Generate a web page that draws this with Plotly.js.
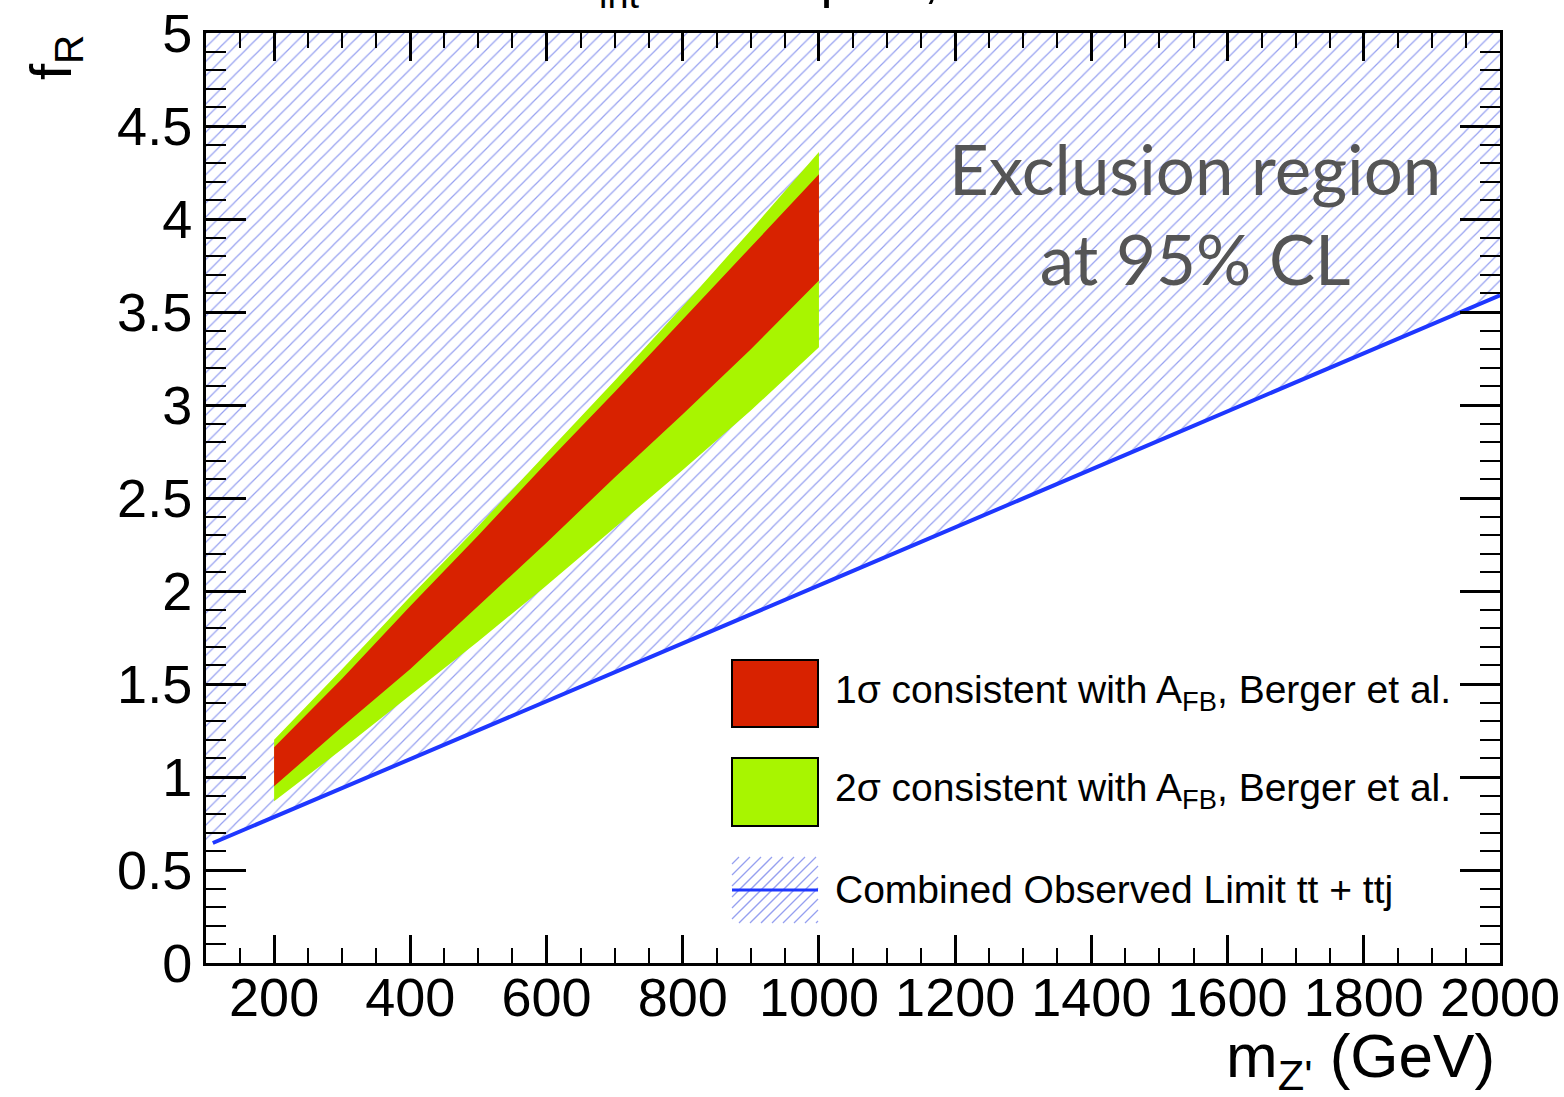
<!DOCTYPE html>
<html>
<head>
<meta charset="utf-8">
<script src="https://cdn.plot.ly/plotly-3.0.1.min.js"></script>
<style>html,body{margin:0;padding:0;background:#fff;}#chart{width:1564px;height:1097px;}</style>
</head>
<body>
<div id="chart"></div>
<script>
// ---- data ----
const bandMass = [200, 300, 400, 500, 600, 700, 800, 900, 1000];           // m_Z' (GeV)
const green2sUpper = [1.20, 1.58, 1.97, 2.35, 2.74, 3.13, 3.53, 3.94, 4.36];
const red1sUpper   = [1.16, 1.53, 1.92, 2.30, 2.69, 3.07, 3.46, 3.85, 4.24];
const red1sLower   = [0.95, 1.27, 1.58, 1.92, 2.26, 2.61, 2.95, 3.30, 3.67];
const green2sLower = [0.87, 1.15, 1.44, 1.73, 2.03, 2.34, 2.65, 2.97, 3.31];

const limitMass = [110, 500, 1000, 1500, 2000];
const limitFR   = [0.645, 1.25, 2.03, 2.81, 3.59];
const hatchEdgeMass = [100];
const hatchEdgeFR   = [0.63];
const hatchTopFR = 5;

const xTickVals = [200, 400, 600, 800, 1000, 1200, 1400, 1600, 1800, 2000];
const yTickVals = [0, 0.5, 1, 1.5, 2, 2.5, 3, 3.5, 4, 4.5, 5];
const yTickText = ['0', '0.5', '1', '1.5', '2', '2.5', '3', '3.5', '4', '4.5', '5'];

const legendLabels = [
  '1σ consistent with A<sub>FB</sub>, Berger et al.',
  '2σ consistent with A<sub>FB</sub>, Berger et al.',
  'Combined Observed Limit tt + ttj'
];

// ---- styles ----
const RED = 'rgb(216,34,0)';
const GREEN = 'rgb(168,245,0)';
const BLUE = 'rgb(30,55,255)';
const HATCH = 'rgb(150,160,240)';
const FONT = 'Liberation Sans, Arial, sans-serif';

// geometry helpers (page px -> paper)
const W = 1564, H = 1097, L = 206, R = 1500, T = 33, B = 963;
const px2x = p => (p - L) / (R - L);
const px2y = p => (B - p) / (B - T);

const rev = a => a.slice().reverse();

const traces = [
  { // hatched exclusion region
    type: 'scatter', mode: 'lines',
    x: hatchEdgeMass.concat(limitMass, [limitMass[limitMass.length - 1], hatchEdgeMass[0]]),
    y: hatchEdgeFR.concat(limitFR, [hatchTopFR, hatchTopFR]),
    fill: 'toself', line: { width: 0 }, fillcolor: 'rgba(0,0,0,0)',
    fillpattern: { shape: '/', fgcolor: HATCH, bgcolor: 'rgba(255,255,255,0)', size: 10, solidity: 0.12 },
    hoverinfo: 'skip', showlegend: false
  },
  { // 2 sigma band
    type: 'scatter', mode: 'lines',
    x: bandMass.concat(rev(bandMass)),
    y: green2sUpper.concat(rev(green2sLower)),
    fill: 'toself', fillcolor: GREEN, line: { width: 0 }, showlegend: false
  },
  { // 1 sigma band
    type: 'scatter', mode: 'lines',
    x: bandMass.concat(rev(bandMass)),
    y: red1sUpper.concat(rev(red1sLower)),
    fill: 'toself', fillcolor: RED, line: { width: 0 }, showlegend: false
  },
  { // observed limit
    type: 'scatter', mode: 'lines',
    x: limitMass, y: limitFR,
    line: { color: BLUE, width: 4 }, showlegend: false
  }
];

// legend drawn manually (ROOT style)
const shapes = [];
const annotations = [];
const boxX0 = 732, boxX1 = 818;
const boxes = [[660, 727, RED], [758, 826, GREEN]];
boxes.forEach(b => shapes.push({
  type: 'rect', xref: 'paper', yref: 'paper',
  x0: px2x(boxX0), x1: px2x(boxX1), y0: px2y(b[1]), y1: px2y(b[0]),
  fillcolor: b[2], line: { color: 'black', width: 2 }
}));
// hatch legend
const hy0 = 857, hy1 = 923;
for (let k = -70; k < 90; k += 11) {
  let xa = boxX0 + k, ya = hy1, xb = boxX0 + k + (hy1 - hy0), yb = hy0;
  if (xa < boxX0) { ya -= (boxX0 - xa); xa = boxX0; }
  if (xb > boxX1) { yb += (xb - boxX1); xb = boxX1; }
  if (xa >= xb) continue;
  shapes.push({ type: 'line', xref: 'paper', yref: 'paper',
    x0: px2x(xa), y0: px2y(ya), x1: px2x(xb), y1: px2y(yb),
    line: { color: HATCH, width: 1.3 } });
}
shapes.push({ type: 'line', xref: 'paper', yref: 'paper',
  x0: px2x(boxX0), x1: px2x(boxX1), y0: px2y(890), y1: px2y(890),
  line: { color: BLUE, width: 3 } });

const legendY = [692, 790, 889];
legendLabels.forEach((t, i) => annotations.push({
  xref: 'paper', yref: 'paper', x: px2x(833), y: px2y(legendY[i]),
  xanchor: 'left', yanchor: 'middle', showarrow: false, text: t,
  font: { family: FONT, size: 39, color: 'black' }
}));

annotations.push({
  xref: 'paper', yref: 'paper', x: px2x(1195), y: px2y(214),
  xanchor: 'center', yanchor: 'middle', showarrow: false,
  text: 'Exclusion region<br>at 95% CL',
  font: { family: 'Lato, Open Sans, sans-serif', size: 69, color: 'rgb(85,85,85)' }
});
annotations.push({
  xref: 'paper', yref: 'paper', x: px2x(1497), y: px2y(1060),
  xanchor: 'right', yanchor: 'middle', showarrow: false,
  text: "m<sub>Z'</sub> (GeV)",
  font: { family: FONT, size: 62, color: 'black' }
});
annotations.push({
  xref: 'paper', yref: 'paper', x: px2x(55), y: px2y(58),
  xanchor: 'center', yanchor: 'middle', showarrow: false, textangle: -90,
  text: 'f<sub>R</sub>',
  font: { family: FONT, size: 58, color: 'black' }
});
annotations.push({ // top title, mostly cut by page edge
  xref: 'paper', yref: 'paper', x: px2x(567), y: px2y(18),
  xanchor: 'left', yanchor: 'bottom', showarrow: false,
  text: 'L<sub>int</sub> =&nbsp;&nbsp;35&nbsp;&nbsp;&nbsp;pb<sup>−1</sup>, √s = 7 TeV',
  font: { family: FONT, size: 54, color: 'black' }
});

const axisCommon = {
  showline: true, linecolor: 'black', linewidth: 3, mirror: 'ticks',
  ticks: 'inside', tickwidth: 3, tickcolor: 'black',
  showgrid: false, zeroline: false,
  tickfont: { family: FONT, size: 54, color: 'black' }
};

const layout = {
  width: W, height: H,
  margin: { l: L, r: W - R, t: T, b: H - B, pad: 0 },
  paper_bgcolor: 'white', plot_bgcolor: 'white',
  showlegend: false,
  xaxis: Object.assign({}, axisCommon, {
    range: [100, 2000], tickmode: 'array', tickvals: xTickVals, ticklen: 28,
    ticklabelstandoff: -15,
    minor: { dtick: 50, tick0: 0, ticks: 'inside', ticklen: 15, tickwidth: 2, tickcolor: 'black', showgrid: false }
  }),
  yaxis: Object.assign({}, axisCommon, {
    range: [0, 5], tickmode: 'array', tickvals: yTickVals, ticktext: yTickText, ticklen: 40,
    minor: { dtick: 0.1, tick0: 0, ticks: 'inside', ticklen: 20, tickwidth: 2, tickcolor: 'black', showgrid: false }
  }),
  shapes: shapes,
  annotations: annotations
};

Plotly.newPlot('chart', traces, layout, { staticPlot: true });
</script>
</body>
</html>
